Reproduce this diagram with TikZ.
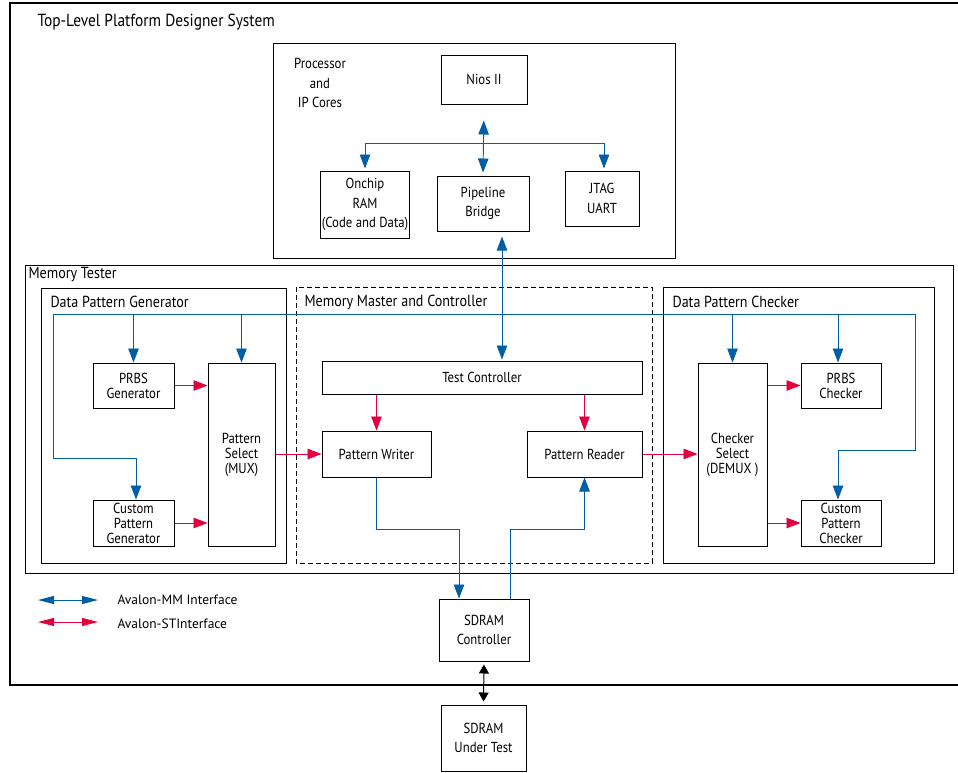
\documentclass[tikz,border=0pt]{standalone}
\usepackage{fontspec}
\setmainfont{PT Sans}[FakeStretch=0.88]
\newfontfamily\legendfont{PT Sans}
\usetikzlibrary{arrows.meta}
\definecolor{avblue}{RGB}{0,94,165}
\definecolor{avred}{RGB}{226,0,60}
\newcommand{\boxfont}{\fontsize{14.5}{19.5}\selectfont}
\newcommand{\tightfont}{\fontsize{14.5}{15}\selectfont}
\newcommand{\labelfont}{\fontsize{16}{18}\selectfont}
\tikzset{
    blk/.style={draw, line width=1pt, align=center, font=\boxfont, inner sep=1pt},
    tightblk/.style={blk, font=\tightfont},
    mm/.style={draw=avblue, line width=0.9pt},
    st/.style={draw=avred, line width=0.9pt},
    grp/.style={line width=1pt}
}

\begin{document}
\begin{tikzpicture}[x=1pt, y=-1pt, >={Triangle[length=14pt,width=10.5pt]}]
            \useasboundingbox (0,0) rectangle (958,772);
            % 外框
            \draw[line width=1.3pt] (960,3) -- (10,3) -- (10,685) -- (960,685);
            \node[anchor=west, font=\fontsize{17.5}{20}\selectfont] (title) at (34,22) {Top-Level Platform Designer System};
            % 处理器部分
            \draw[grp] (273,43) rectangle (675,258);
            \node[align=center, font=\boxfont] (proclabel) at (320,83) {Processor\\and\\IP Cores};
            \node[blk, minimum width=86pt, minimum height=49pt] (nios) at (484,79.5) {Nios II};
            \node[blk, minimum width=86pt, minimum height=67pt] (onchip) at (365,204.5) {Onchip\\RAM\\(Code and Data)};
            \node[blk, minimum width=92pt, minimum height=55pt] (bridge) at (483,203.5) {Pipeline\\Bridge};
            \node[blk, minimum width=74pt, minimum height=55pt] (jtag) at (602,198.5) {JTAG\\UART};
            \coordinate (busl) at (365,143);
            \coordinate (busr) at (604,143);
            \draw[mm, <->, shorten <=2pt, shorten >=2pt] (onchip.north) -- (busl) -- (busr) -- (busr |- jtag.north);
            \draw[mm, <->, shorten <=16pt, shorten >=3pt] (nios.south) -- (bridge.north);
            % Memory Tester
            \draw[grp] (25,265) rectangle (953,573);
            \node[anchor=west, font=\labelfont] (mtlabel) at (25,275) {Memory Tester};
            \draw[grp] (41,288) rectangle (286,563);
            \node[anchor=west, font=\labelfont] (dpglabel) at (47,302) {Data Pattern Generator};
            \draw[grp, dash pattern=on 5pt off 3pt] (296,287) rectangle (652,563);
            \node[anchor=west, font=\labelfont] (mmclabel) at (301,302) {Memory Master and Controller};
            \draw[grp] (663,287) rectangle (934,563);
            \node[anchor=west, font=\labelfont] (dpclabel) at (669,302) {Data Pattern Checker};
            \node[tightblk, minimum width=81pt, minimum height=45pt] (prbsgen) at (133.5,385.5) {PRBS\\Generator};
            \node[tightblk, minimum width=81pt, minimum height=46pt] (customgen) at (133.5,523) {Custom\\Pattern\\Generator};
            \node[tightblk, minimum width=67pt, minimum height=183pt] (mux) at (241.5,454.5) {Pattern\\Select\\(MUX)};
            \node[blk, minimum width=320pt, minimum height=33pt] (testctl) at (482,377.5) {Test Controller};
            \node[blk, minimum width=109pt, minimum height=46pt] (writer) at (376.5,454) {Pattern Writer};
            \node[blk, minimum width=115pt, minimum height=46pt] (reader) at (584.5,454) {Pattern Reader};
            \node[tightblk, minimum width=69pt, minimum height=183pt] (demux) at (732.5,454.5) {Checker\\Select\\(DEMUX )};
            \node[tightblk, minimum width=80pt, minimum height=45pt] (prbschk) at (841,385.5) {PRBS\\Checker};
            \node[tightblk, minimum width=80pt, minimum height=46pt] (customchk) at (841,523) {Custom\\Pattern\\Checker};
            \node[blk, minimum width=90pt, minimum height=62pt] (sdramctl) at (484,630) {SDRAM\\Controller};
            \node[blk, minimum width=85pt, minimum height=66pt] (sdramdut) at (483.5,738) {SDRAM\\Under Test};
            % Avalon-MM 连线
            \coordinate (busw) at (53,314);
            \coordinate (buse) at (915,314);
            \coordinate (wbend) at (136,458);
            \coordinate (ebend) at (838,450);
            \coordinate (wlow) at (459,529);
            \coordinate (rlow) at (510,529);
            \draw[mm] (busw) -- (buse);
            \draw[mm, ->] (prbsgen.north |- busw) -- (prbsgen.north);
            \draw[mm, ->] (mux.north |- busw) -- (mux.north);
            \draw[mm, ->] (busw) |- (wbend) -- (wbend |- customgen.north);
            \draw[mm, ->] (demux.north |- buse) -- (demux.north);
            \draw[mm, ->] (ebend |- buse) -- (ebend |- prbschk.north);
            \draw[mm, ->] (buse) |- (ebend) -- (ebend |- customchk.north);
            \draw[mm, <->, shorten <=5pt, shorten >=1pt] ([xshift=19pt]bridge.south) -- ([xshift=19pt]bridge.south |- testctl.north);
            \draw[mm, ->] (writer.south) |- (wlow) -- (wlow |- sdramctl.north);
            \draw[mm, ->] (rlow |- sdramctl.north) -- (rlow) -| (reader.south);
            % Avalon-ST 连线
            \draw[st, ->] (prbsgen.east) -- (prbsgen.east -| mux.west);
            \draw[st, ->] (customgen.east) -- (customgen.east -| mux.west);
            \draw[st, ->] (mux.east |- writer.west) -- (writer.west);
            \draw[st, ->] (testctl.south -| writer.north) -- (writer.north);
            \draw[st, ->] (testctl.south -| reader.north) -- (reader.north);
            \draw[st, ->] (reader.east) -- (reader.east -| demux.west);
            \draw[st, ->] (demux.east |- prbschk.west) -- (prbschk.west);
            \draw[st, ->] (demux.east |- customchk.west) -- (customchk.west);
            \draw[line width=1pt, {Triangle[length=9pt,width=10pt]}-{Triangle[length=9pt,width=10pt]}, shorten <=3pt, shorten >=3pt] (sdramctl.south) -- (sdramdut.north);
            % 图例
            \coordinate (mma) at (38,600);
            \coordinate (mmb) at (98,600);
            \coordinate (sta) at (38,622);
            \coordinate (stb) at (98,622);
            \draw[mm, {Triangle[length=16pt,width=8pt]}-{Triangle[length=16pt,width=8pt]}] (mma) -- (mmb);
            \draw[st, {Triangle[length=16pt,width=8pt]}-{Triangle[length=16pt,width=8pt]}] (sta) -- (stb);
            \node[anchor=west, font=\legendfont\fontsize{13.5}{16}\selectfont] (mmtext) at (114,600) {Avalon-MM Interface};
            \node[anchor=west, font=\legendfont\fontsize{13.5}{16}\selectfont] (sttext) at (114,624) {Avalon-STInterface};
        \end{tikzpicture}
\end{document}
